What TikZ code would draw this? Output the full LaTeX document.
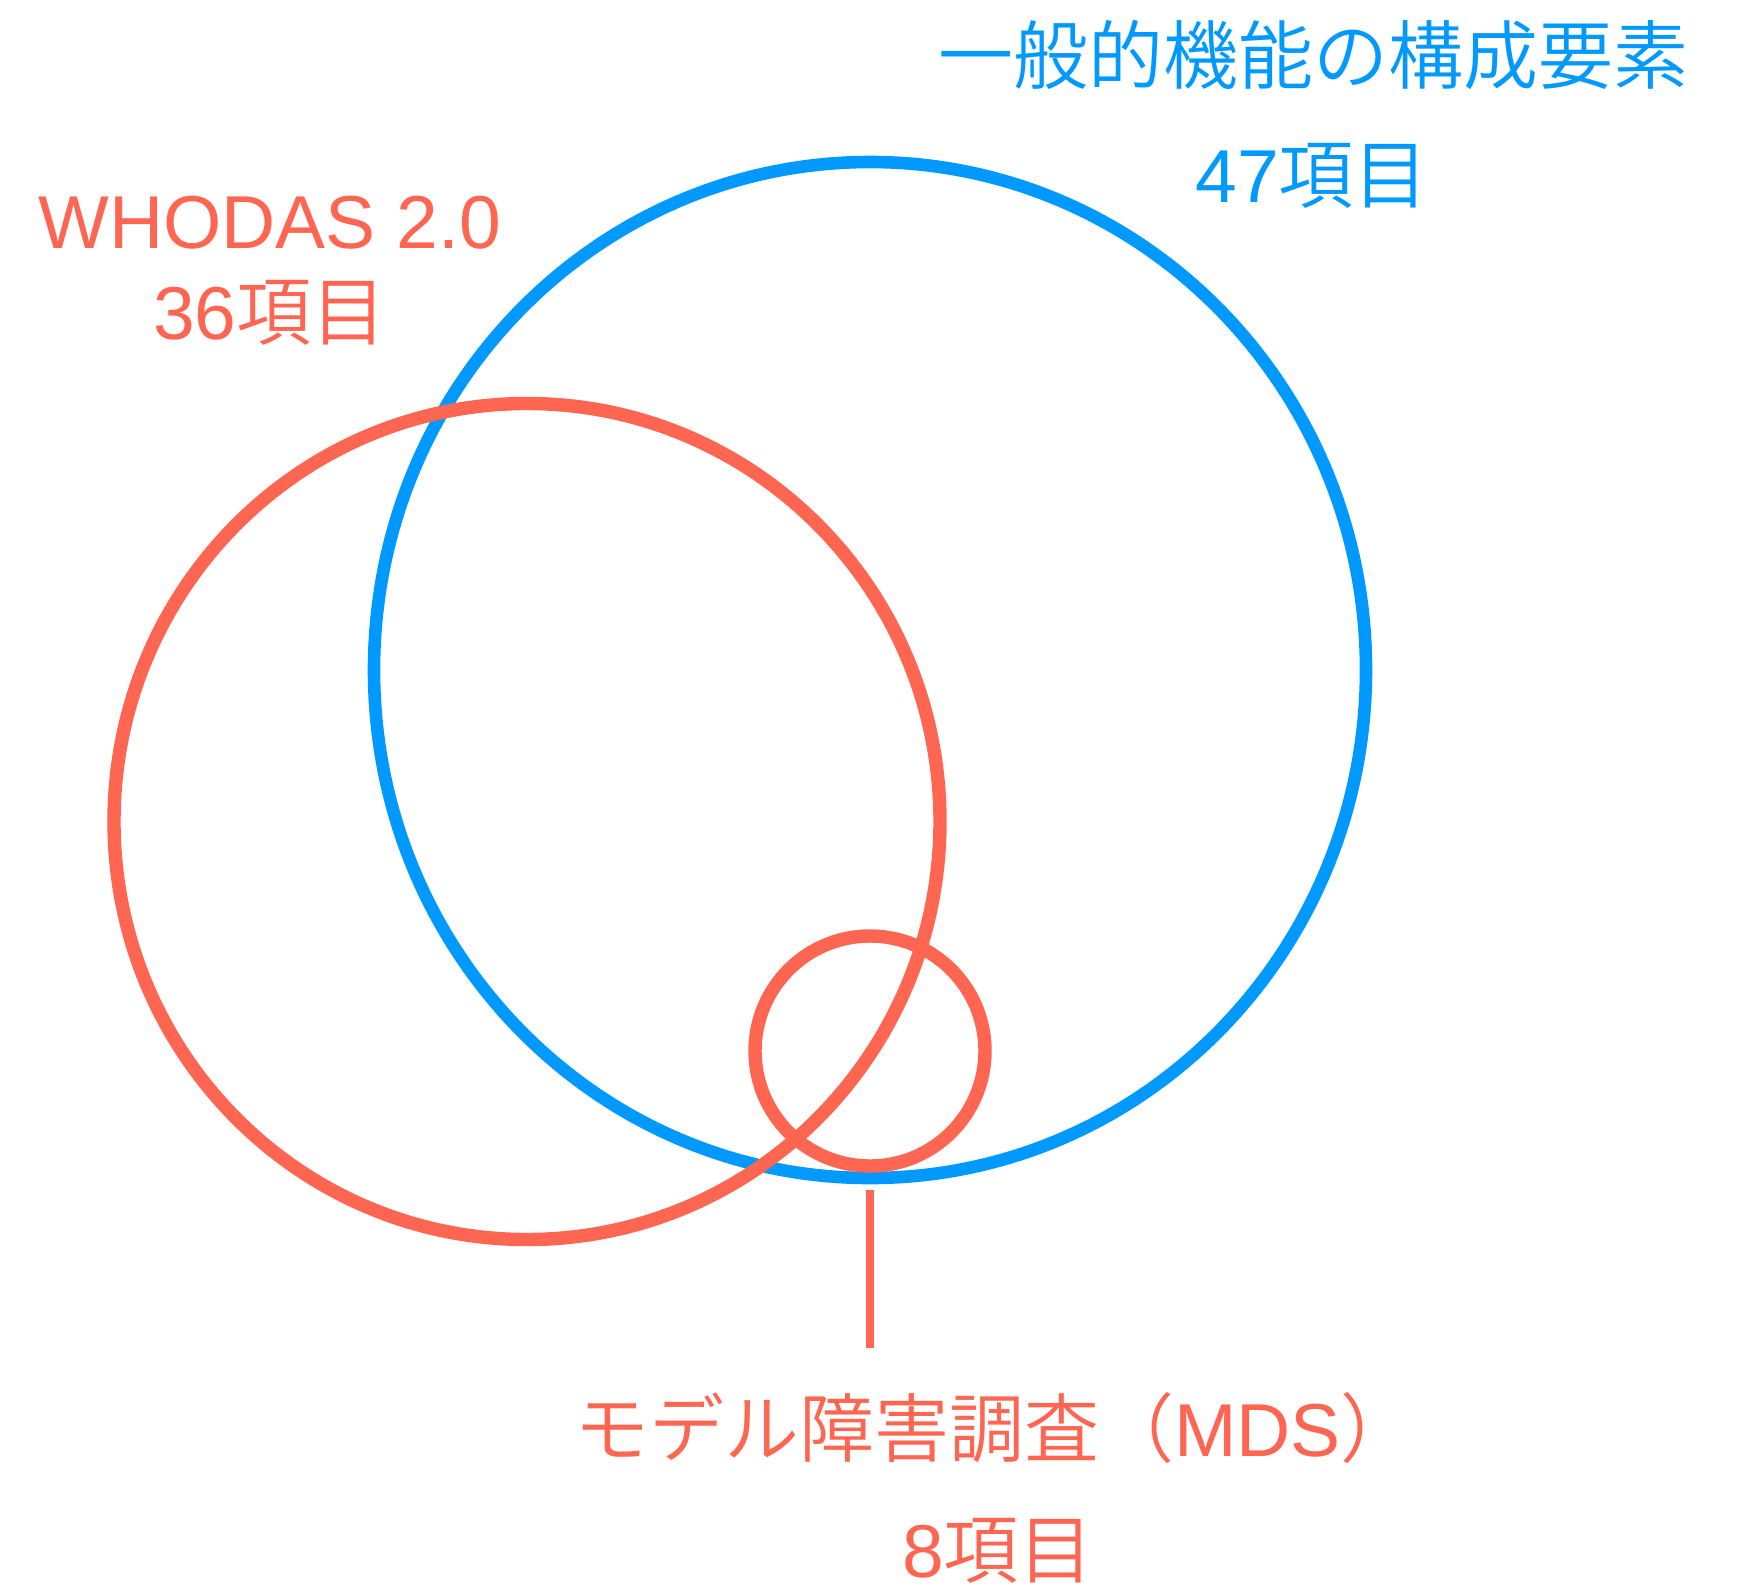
\documentclass[tikz,border=0pt]{standalone}
\usepackage{fontspec}
\setmainfont{Liberation Sans}
\newfontfamily\cjk{Noto Sans CJK JP DemiLight}
\usetikzlibrary{positioning}

\definecolor{gfcblue}{RGB}{0,153,255}
\definecolor{whored}{RGB}{255,102,82}

\tikzset{
    bluering/.style={draw=gfcblue, line width=12.6pt},
    redring/.style={draw=whored, line width=13.4pt},
    blueword/.style={text=gfcblue, font=\fontsize{75}{90}\selectfont, inner sep=0pt, anchor=base},
    redword/.style={text=whored, font=\fontsize{75}{90}\selectfont, inner sep=0pt, anchor=base},
}

\begin{document}
\begin{tikzpicture}[x=1pt, y=-1pt]
        \useasboundingbox (0,0) rectangle (1742,1588);

        % circles
        \draw[bluering] (870,670) ellipse [x radius=496pt, y radius=508pt];
        \draw[redring] (527,821.5) ellipse [x radius=413pt, y radius=418pt];
        \node[redring, circle, minimum size=230pt, inner sep=0pt] (mds) at (870,1051) {};

        % labels
        \node[blueword] (gfc) at (1313,83) {\cjk 一般的機能の構成要素};
        \node[blueword] (gfcitems) at (1312,202) {47\cjk 項目};
        \node[redword] (whodas) at (269.5,248) {WHODAS 2.0};
        \node[redword] (whodasitems) at (270,339) {36\cjk 項目};
        \node[redword] (mdsname) at (995,1456) {{\cjk モデル障害調査（}MDS{\cjk ）}};
        \node[redword] (mdsitems) at (998,1577) {8\cjk 項目};

        \draw[whored, line width=8pt, shorten <=17pt, shorten >=44pt] (mds.south) -- (mds.south |- mdsname.north);
    \end{tikzpicture}
\end{document}
